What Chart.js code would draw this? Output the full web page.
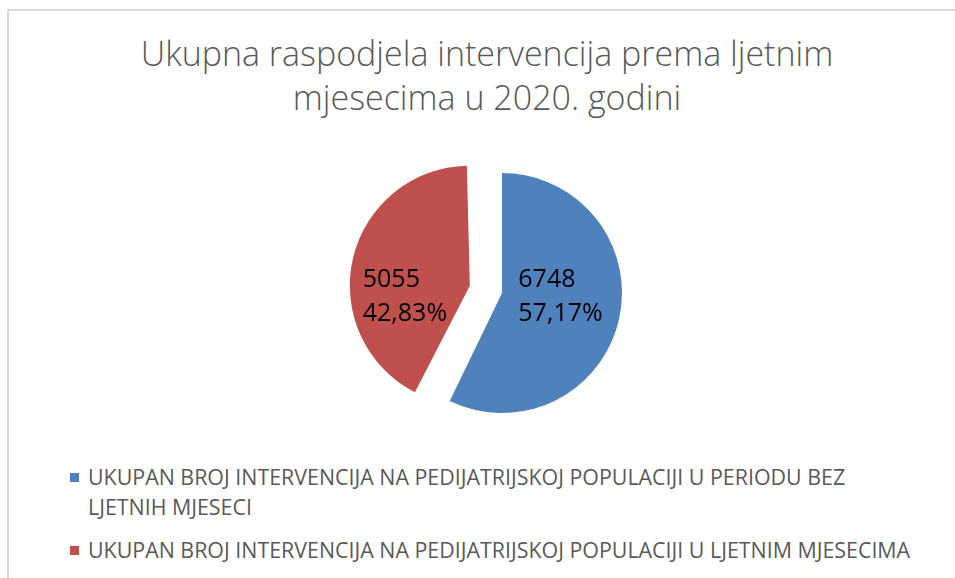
<!DOCTYPE html>
<html>
<head>
<meta charset="utf-8">
<script src="https://cdn.jsdelivr.net/npm/chart.js@4/dist/chart.umd.min.js"></script>
<style>
  body { margin: 0; background: #fff; overflow: hidden; }
  #wrap { position: relative; width: 955px; height: 578px; overflow: hidden; font-family: "Open Sans", sans-serif; }
  #frame { position: absolute; left: 7px; top: 9px; width: 1000px; height: 700px;
           border-top: 2px solid #d9d9d9; border-left: 2px solid #d9d9d9; }
  #title { position: absolute; left: 19px; width: 936px; top: 31px; text-align: center;
           font-size: 34px; line-height: 44px; color: #595959; font-weight: 300; }
  #pieBox { position: absolute; left: 302px; top: 143px; width: 400px; height: 300px; }
  #legend { position: absolute; left: 70px; top: 462px; width: 860px; }
  .item { display: flex; align-items: flex-start; margin-bottom: 13px; }
  .box { width: 9px; height: 9px; margin-top: 11px; margin-right: 9px; flex: none; }
  .txt { width: 836px; font-size: 21.4px; line-height: 30px; color: #595959; }
</style>
</head>
<body>
<div id="wrap">
  <div id="frame"></div>
  <div id="title"></div>
  <div id="pieBox"><canvas id="pie"></canvas></div>
  <div id="legend"></div>
</div>
<script>
const titleLines = ["Ukupna raspodjela intervencija prema ljetnim", "mjesecima u 2020. godini"];
const categories = [
  "UKUPAN BROJ INTERVENCIJA NA PEDIJATRIJSKOJ POPULACIJI U PERIODU BEZ LJETNIH MJESECI",
  "UKUPAN BROJ INTERVENCIJA NA PEDIJATRIJSKOJ POPULACIJI U LJETNIM MJESECIMA"
];
const values = [6748, 5055];
const percentLabels = ["57,17%", "42,83%"];
const colors = ["#4f81bd", "#c0504d"];
const explode = [0, 33]; // px the slice is pulled out

document.getElementById("title").innerHTML = titleLines.join("<br>");

// chart.js grows an offset arc's radius; pull it back so the exploded slice keeps the pie radius
const keepRadius = {
  id: "keepRadius",
  afterDatasetsUpdate(chart) {
    chart.getDatasetMeta(0).data.forEach((arc, i) => {
      const circ = arc.endAngle - arc.startAngle;
      arc.outerRadius -= explode[i] * (1 - Math.sin(Math.min(Math.PI, circ)));
    });
  }
};

// value + percent inside each slice
const sliceLabels = {
  id: "sliceLabels",
  afterDatasetsDraw(chart) {
    const ctx = chart.ctx;
    const meta = chart.getDatasetMeta(0);
    ctx.save();
    ctx.font = "25px 'Open Sans'";
    ctx.fillStyle = "#000";
    ctx.textBaseline = "middle";
    ctx.textAlign = "left";
    meta.data.forEach((arc, i) => {
      const p = arc.getProps(["x", "y", "startAngle", "endAngle"], true);
      const mid = (p.startAngle + p.endAngle) / 2;
      const x = p.x + Math.cos(mid) * (explode[i] * 1.2 + 0.5 * 120);
      const y = p.y + 4;
      const lines = [String(values[i]), percentLabels[i]];
      const w = Math.max(...lines.map(t => ctx.measureText(t).width));
      ctx.fillText(lines[0], x - w / 2, y - 17);
      ctx.fillText(lines[1], x - w / 2, y + 17);
    });
    ctx.restore();
  }
};

const chart = new Chart(document.getElementById("pie"), {
  type: "pie",
  data: {
    labels: categories,
    datasets: [{
      data: values,
      backgroundColor: colors,
      borderWidth: 0,
      // chart.js v4 draws offset / 4
      offset: explode.map(o => o * 4)
    }]
  },
  options: {
    responsive: true,
    maintainAspectRatio: false,
    animation: false,
    radius: 120,
    layout: { padding: 0 },
    plugins: { legend: { display: false }, tooltip: { enabled: false }, title: { display: false } }
  },
  plugins: [keepRadius, sliceLabels]
});

// legend built from chart data
const leg = document.getElementById("legend");
chart.data.labels.forEach((lab, i) => {
  const item = document.createElement("div");
  item.className = "item";
  item.innerHTML = '<span class="box" style="background:' + colors[i] + '"></span><span class="txt">' + lab + '</span>';
  leg.appendChild(item);
});
</script>
</body>
</html>
